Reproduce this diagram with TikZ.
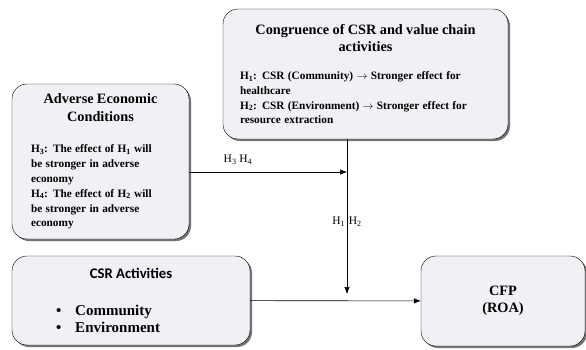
\documentclass[tikz,border=0pt]{standalone}
\usepackage{fontspec}
\setmainfont{Liberation Serif}
\newfontfamily\csrsans{Carlito}
\usetikzlibrary{arrows.meta, shadows, positioning}

\definecolor{boxfill}{RGB}{240,241,244}
\newcommand{\titlesize}{\fontsize{14.3}{17.5}\selectfont}
\newcommand{\bodysize}{\fontsize{11.3}{14.8}\selectfont}

\begin{document}
\begin{tikzpicture}[
            x = 1pt, y = -1pt, % pixel-like units, y downwards
            > = {Latex[length=7pt, width=5.5pt]}, % arrow head style
            auto,
            semithick % line style
        ]

        \tikzstyle{box}=[
            draw = black,
            thin,
            fill = boxfill,
            rounded corners = 15pt,
            drop shadow = {shadow xshift = 2pt, shadow yshift = -2pt, fill = black!55, opacity = 1},
            inner sep = 0pt,
            align = left,
            font = \bfseries
        ]
        \tikzstyle{hlabel}=[inner sep = 0pt, font = \fontsize{11.5}{13}\selectfont]

        \useasboundingbox (0,0) rectangle (586,349);

        \node[box, minimum width = 285pt, minimum height = 130pt, text width = 251pt] (cong) at (365.5,74) {%
            {\centering\titlesize Congruence of CSR and value chain\\activities\par}
            \vspace{13pt}
            {\bodysize H\textsubscript{1}: CSR (Community) \ensuremath{\rightarrow} Stronger effect for\\
            healthcare\\
            H\textsubscript{2}: CSR (Environment) \ensuremath{\rightarrow} Stronger effect for\\
            resource extraction\par}};
        \node[box, minimum width = 177pt, minimum height = 155pt, text width = 139pt] (adv) at (100.5,161.5) {%
            {\centering\titlesize Adverse Economic\\Conditions\par}
            \vspace{17pt}
            {\bodysize H\textsubscript{3}: The effect of H\textsubscript{1} will\\
            be stronger in adverse\\
            economy\\
            H\textsubscript{4}: The effect of H\textsubscript{2} will\\
            be stronger in adverse\\
            economy\par}};
        \node[box, minimum width = 238pt, minimum height = 89pt, text width = 238pt] (csr) at (131,300.5) {%
            {\centering\csrsans\fontsize{14.7}{17}\selectfont CSR Activities\par}
            \vspace{20pt}
            {\fontsize{15}{17}\selectfont
            \hspace*{44pt}\textbullet\hspace{14pt}Community\\
            \hspace*{44pt}\textbullet\hspace{14pt}Environment\par}};
        \node[box, minimum width = 164pt, minimum height = 90pt, align = center, font = \bfseries\titlesize] (cfp) at (503,301) {CFP\\(ROA)};

        \coordinate (meet) at (347,172);
        \coordinate (split) at (347,222);
        \coordinate (tipV) at (347,294);

        \node[hlabel] (hthree) at (238,160) {H\textsubscript{3} H\textsubscript{4}};
        \node[hlabel, left = 1.5pt of split] (hone) {H\textsubscript{1}};
        \node[hlabel, right = 1.5pt of split] (htwo) {H\textsubscript{2}};

        \draw[->] (cong.south -| split) -- (tipV);
        \draw[->] (adv.east |- meet) -- (meet);
        \draw[->] (csr) edge (cfp);
    \end{tikzpicture}
\end{document}
